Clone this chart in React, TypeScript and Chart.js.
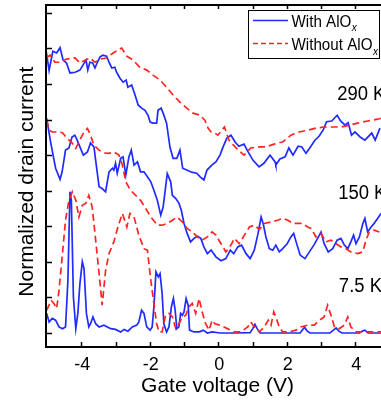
import React, { useEffect, useRef } from "react";
import { Chart, registerables } from "chart.js";

Chart.register(...registerables);

// ---- data (gate voltage V, normalized drain current, offset per temperature) ----
const with290: [number, number][] = [
  [-5.03, 7.95], [-4.94, 7.38], [-4.83, 7.92], [-4.72, 7.87], [-4.62, 8.02], [-4.53, 7.67], [-4.43, 7.59],
  [-4.33, 7.31], [-4.18, 7.33], [-4.04, 7.39], [-3.95, 7.53], [-3.86, 7.67], [-3.81, 7.39], [-3.75, 7.61],
  [-3.67, 7.59], [-3.6, 7.45], [-3.53, 7.61], [-3.45, 7.76], [-3.37, 7.81], [-3.26, 7.78], [-3.18, 7.59],
  [-3.11, 7.45], [-3.02, 7.47], [-2.97, 7.33], [-2.87, 7.16], [-2.78, 7.05], [-2.69, 7.11], [-2.64, 6.91],
  [-2.53, 6.97], [-2.43, 6.69], [-2.34, 6.41], [-2.24, 6.32], [-2.14, 6.26], [-2.05, 6.12], [-1.99, 5.93],
  [-1.91, 5.9], [-1.8, 5.9], [-1.76, 6.26], [-1.67, 6.32], [-1.61, 6.18], [-1.51, 5.9], [-1.41, 5.22],
  [-1.32, 4.91], [-1.21, 4.91], [-1.12, 5.14], [-1.04, 4.63], [-0.92, 4.58], [-0.78, 4.52], [-0.63, 4.49],
  [-0.53, 4.39], [-0.42, 4.3], [-0.33, 4.58], [-0.19, 4.72], [-0.07, 4.81], [0.05, 5.0], [0.14, 5.23],
  [0.25, 5.48], [0.37, 5.56], [0.49, 5.37], [0.6, 5.25], [0.75, 5.31], [0.87, 5.09], [1.01, 4.86],
  [1.19, 4.67], [1.33, 4.77], [1.51, 5.0], [1.66, 4.81], [1.68, 4.72], [1.8, 4.89], [1.95, 4.95],
  [2.06, 5.2], [2.18, 5.0], [2.33, 5.25], [2.44, 5.23], [2.56, 5.05], [2.65, 5.17], [2.82, 5.42],
  [2.94, 5.53], [3.06, 5.7], [3.16, 5.94], [3.31, 5.96], [3.47, 6.12], [3.57, 5.96], [3.7, 5.84],
  [3.79, 5.91], [3.89, 5.56], [3.99, 5.65], [4.14, 5.51], [4.28, 5.42], [4.48, 5.62], [4.58, 5.42],
  [4.72, 5.76],
];
const without290: [number, number][] = [
  [-5.03, 7.73], [-4.91, 7.81], [-4.77, 7.61], [-4.62, 7.61], [-4.43, 7.7], [-4.18, 7.73], [-4.04, 7.59],
  [-3.89, 7.67], [-3.75, 7.73], [-3.6, 7.61], [-3.45, 7.7], [-3.26, 7.73], [-3.07, 7.87], [-2.82, 8.01],
  [-2.67, 7.78], [-2.49, 7.67], [-2.29, 7.47], [-2.09, 7.39], [-1.91, 7.25], [-1.7, 7.11], [-1.51, 6.91],
  [-1.32, 6.69], [-1.12, 6.49], [-0.92, 6.32], [-0.74, 6.18], [-0.53, 6.12], [-0.39, 5.98], [-0.3, 5.76],
  [-0.21, 5.65], [-0.1, 5.62], [-0.01, 5.56], [0.18, 5.79], [0.31, 5.42], [0.52, 5.2], [0.75, 5.0],
  [0.95, 5.2], [1.15, 5.23], [1.39, 5.23], [1.63, 5.31], [1.88, 5.37], [2.12, 5.56], [2.36, 5.65],
  [2.61, 5.7], [2.85, 5.76], [3.09, 5.79], [3.34, 5.79], [3.58, 5.79], [3.82, 5.84], [4.07, 5.9],
  [4.36, 5.96], [4.65, 6.01], [4.75, 6.04],
];
const with150: [number, number][] = [
  [-5.01, 6.03], [-4.89, 5.34], [-4.75, 4.63], [-4.62, 4.32], [-4.56, 4.53], [-4.46, 5.14], [-4.36, 5.2],
  [-4.27, 5.51], [-4.19, 5.56], [-4.12, 5.42], [-4.04, 5.23], [-3.94, 5.0], [-3.82, 5.09], [-3.73, 5.34],
  [-3.63, 5.23], [-3.55, 4.63], [-3.48, 4.11], [-3.39, 4.06], [-3.29, 3.97], [-3.19, 4.53], [-3.09, 4.63],
  [-3.05, 4.58], [-3.0, 4.77], [-2.95, 4.49], [-2.85, 4.91], [-2.78, 4.95], [-2.7, 4.44], [-2.61, 4.95],
  [-2.54, 5.14], [-2.46, 4.72], [-2.36, 4.81], [-2.27, 4.53], [-2.17, 4.53], [-2.07, 4.39], [-1.97, 4.25],
  [-1.88, 4.01], [-1.78, 3.73], [-1.68, 3.31], [-1.61, 3.54], [-1.49, 4.48], [-1.39, 4.25], [-1.34, 3.87],
  [-1.24, 3.78], [-1.15, 3.65], [-1.08, 3.45], [-1.0, 3.08], [-0.91, 2.8], [-0.81, 2.56], [-0.71, 2.66],
  [-0.61, 2.72], [-0.51, 2.66], [-0.42, 2.42], [-0.32, 2.23], [-0.21, 2.33], [-0.07, 2.14], [0.08, 2.03],
  [0.22, 2.09], [0.35, 2.33], [0.45, 2.23], [0.57, 2.42], [0.68, 2.47], [0.81, 2.23], [0.93, 2.09],
  [1.05, 2.33], [1.15, 2.75], [1.25, 3.26], [1.31, 3.08], [1.39, 2.7], [1.49, 2.37], [1.59, 2.33],
  [1.68, 2.47], [1.78, 2.28], [1.88, 2.37], [2.01, 2.51], [2.12, 2.7], [2.2, 2.8], [2.3, 2.47],
  [2.39, 2.19], [2.53, 2.09], [2.66, 2.28], [2.79, 2.47], [2.9, 2.66], [3.0, 2.84], [3.09, 2.51],
  [3.21, 2.28], [3.34, 2.37], [3.47, 2.61], [3.58, 2.66], [3.68, 2.47], [3.78, 2.37], [3.87, 2.56],
  [3.95, 2.75], [4.02, 2.51], [4.12, 2.7], [4.22, 3.08], [4.28, 3.22], [4.36, 2.84], [4.46, 2.98],
  [4.55, 3.08], [4.65, 3.22], [4.75, 3.36],
];
const without150: [number, number][] = [
  [-5.01, 5.98], [-4.94, 5.7], [-4.85, 5.65], [-4.7, 5.65], [-4.55, 5.63], [-4.41, 5.47], [-4.26, 5.33],
  [-4.16, 5.19], [-4.07, 5.37], [-3.92, 5.65], [-3.82, 5.75], [-3.73, 5.56], [-3.63, 5.28], [-3.48, 5.14],
  [-3.34, 5.06], [-3.19, 5.05], [-3.05, 5.09], [-2.9, 5.0], [-2.8, 4.72], [-2.7, 4.25], [-2.56, 4.01],
  [-2.41, 3.87], [-2.27, 3.73], [-2.12, 3.5], [-1.97, 3.26], [-1.78, 3.03], [-1.64, 3.03], [-1.49, 3.08],
  [-1.34, 3.17], [-1.2, 3.26], [-1.05, 3.12], [-0.91, 2.94], [-0.76, 2.84], [-0.61, 2.7], [-0.47, 2.61],
  [-0.32, 2.7], [-0.18, 2.84], [-0.07, 2.75], [0.08, 2.51], [0.22, 2.28], [0.37, 2.47], [0.47, 2.66],
  [0.61, 2.51], [0.76, 2.75], [0.91, 2.98], [1.05, 3.03], [1.2, 2.91], [1.34, 3.08], [1.54, 3.12],
  [1.73, 3.17], [1.88, 3.22], [2.03, 3.17], [2.17, 3.08], [2.32, 3.08], [2.46, 3.08], [2.61, 2.98],
  [2.71, 2.94], [2.85, 2.7], [3.0, 2.8], [3.14, 2.56], [3.29, 2.61], [3.44, 2.51], [3.58, 2.42],
  [3.73, 2.37], [3.87, 2.28], [4.07, 2.23], [4.22, 2.28], [4.31, 2.61], [4.41, 2.84], [4.55, 2.89],
  [4.7, 2.84],
];
const with7p5: [number, number][] = [
  [-5.01, 0.55], [-4.94, 0.31], [-4.85, 0.41], [-4.75, 0.36], [-4.65, 0.17], [-4.55, 0.12], [-4.46, 0.17],
  [-4.39, 1.48], [-4.33, 3.97], [-4.29, 3.73], [-4.23, 1.01], [-4.16, 0.12], [-4.1, 0.55], [-4.04, 1.39],
  [-3.97, 2.0], [-3.92, 1.81], [-3.85, 0.55], [-3.78, 0.17], [-3.73, 0.26], [-3.66, 0.45], [-3.58, 0.26],
  [-3.48, 0.17], [-3.34, 0.22], [-3.14, 0.12], [-3.0, 0.1], [-2.85, 0.03], [-2.75, 0.1], [-2.64, 0.05],
  [-2.51, 0.17], [-2.38, 0.22], [-2.32, 0.31], [-2.24, 0.64], [-2.17, 0.55], [-2.09, 0.17], [-1.99, 0.08],
  [-1.93, 0.17], [-1.88, 0.73], [-1.82, 1.72], [-1.75, 1.58], [-1.7, 1.67], [-1.64, 1.11], [-1.59, 0.26],
  [-1.51, 0.03], [-1.44, 0.17], [-1.37, 0.73], [-1.31, 0.97], [-1.26, 0.64], [-1.21, 0.12], [-1.15, 0.17],
  [-1.1, 0.55], [-1.05, 0.5], [-1.0, 0.59], [-0.94, 0.97], [-0.88, 0.78], [-0.84, 0.08], [-0.71, 0.03],
  [-0.56, 0.03], [-0.48, 0.06], [-0.44, 0.08], [-0.32, 0.0], [-0.18, 0.03], [0.05, 0.0], [0.49, 0.0],
  [0.93, 0.01], [1.01, 0.13], [1.07, 0.24], [1.13, 0.13], [1.22, 0.0], [1.8, 0.0], [2.39, 0.0],
  [2.46, 0.09], [2.52, 0.16], [2.59, 0.06], [2.68, 0.0], [3.26, 0.0], [3.36, 0.08], [3.44, 0.14],
  [3.52, 0.05], [3.61, 0.0], [4.12, 0.0], [4.22, 0.06], [4.28, 0.08], [4.37, 0.0], [4.75, 0.0],
];
const without7p5: [number, number][] = [
  [-5.01, 0.64], [-4.94, 0.78], [-4.88, 0.92], [-4.8, 0.83], [-4.72, 0.69], [-4.65, 1.2], [-4.55, 2.23],
  [-4.46, 3.17], [-4.36, 3.73], [-4.26, 3.97], [-4.16, 3.73], [-4.07, 3.26], [-3.97, 3.59], [-3.87, 3.64],
  [-3.78, 3.87], [-3.68, 3.54], [-3.58, 2.61], [-3.48, 1.67], [-3.39, 0.78], [-3.29, 1.76], [-3.19, 2.23],
  [-3.05, 2.56], [-2.93, 2.98], [-2.8, 3.36], [-2.67, 2.98], [-2.58, 3.36], [-2.46, 3.26], [-2.32, 2.75],
  [-2.17, 2.37], [-2.07, 2.33], [-1.97, 1.48], [-1.88, 0.83], [-1.8, 0.26], [-1.73, 0.03], [-1.64, 0.03],
  [-1.54, 0.5], [-1.44, 0.55], [-1.34, 0.45], [-1.24, 0.12], [-1.15, 0.26], [-1.05, 0.45], [-0.95, 0.5],
  [-0.86, 0.73], [-0.76, 0.83], [-0.66, 0.55], [-0.56, 0.97], [-0.47, 0.59], [-0.37, 0.26], [-0.27, 0.08],
  [-0.18, 0.36], [-0.1, 0.26], [0.05, 0.22], [0.25, 0.13], [0.47, 0.03], [0.66, 0.03], [0.86, 0.17],
  [0.95, 0.31], [1.05, 0.17], [1.2, 0.03], [1.34, 0.17], [1.46, 0.36], [1.54, 0.22], [1.62, 0.59],
  [1.68, 0.45], [1.78, 0.17], [1.88, 0.03], [2.07, 0.03], [2.27, 0.08], [2.41, 0.17], [2.61, 0.22],
  [2.8, 0.22], [2.95, 0.36], [3.09, 0.45], [3.19, 0.78], [3.29, 0.5], [3.39, 0.17], [3.53, 0.12],
  [3.68, 0.22], [3.78, 0.45], [3.87, 0.17], [4.02, 0.03], [4.22, 0.03], [4.43, 0.03], [4.75, 0.03],
];

const xMajorTicks = [-4, -2, 0, 2, 4];
const xMinorTicks = [-3, -1, 1, 3];
const yTicks = [0, 1, 2, 3, 4, 5, 6, 7, 8, 9];
const tempLabels: { text: string; x: number; y: number }[] = [
  { text: "290 K", x: 3.47, y: 6.55 },
  { text: "150 K", x: 3.5, y: 3.78 },
  { text: "7.5 K", x: 3.52, y: 1.15 },
];
const seriesNames = ["With AlO", "Without AlO"];

const BLUE = "#1f2bff";
const RED = "#ff2424";
const FONT = "'Liberation Sans', Arial, Helvetica, sans-serif";

const toXY = (arr: [number, number][]) => arr.map(([x, y]) => ({ x, y }));

const overlay = {
  id: "overlay",
  afterDraw(chart: any) {
    const { ctx, chartArea, scales } = chart;
    const { left, top, right, bottom } = chartArea;
    const xs = scales.x;
    const ys = scales.y;
    ctx.save();
    ctx.strokeStyle = "#000";
    ctx.fillStyle = "#000";
    ctx.lineWidth = 2;
    ctx.beginPath();
    ctx.moveTo(left - 1, top);
    ctx.lineTo(right, top);
    ctx.moveTo(left - 1, bottom);
    ctx.lineTo(right, bottom);
    ctx.moveTo(left, top);
    ctx.lineTo(left, bottom);
    ctx.stroke();
    ctx.lineWidth = 1.5;
    ctx.beginPath();
    [...xMajorTicks, ...xMinorTicks].forEach((v) => {
      const px = Math.round(xs.getPixelForValue(v)) + 0.5;
      ctx.moveTo(px, bottom);
      ctx.lineTo(px, bottom - 5);
      ctx.moveTo(px, top);
      ctx.lineTo(px, top + 4);
    });
    yTicks.forEach((v) => {
      const py = Math.round(ys.getPixelForValue(v)) + 0.5;
      ctx.moveTo(left, py);
      ctx.lineTo(left + 6, py);
    });
    ctx.stroke();

    // tick labels
    ctx.font = `18px ${FONT}`;
    ctx.textAlign = "center";
    ctx.textBaseline = "alphabetic";
    xMajorTicks.forEach((v) => {
      ctx.fillText(String(v), xs.getPixelForValue(v) + 1, 369.8);
    });

    // axis titles
    ctx.font = `21px ${FONT}`;
    ctx.fillText("Gate voltage (V)", 217.5, 391.5);
    ctx.save();
    ctx.translate(33, 181.7);
    ctx.rotate(-Math.PI / 2);
    ctx.fillText("Normalized drain current", 0, 0);
    ctx.restore();

    // temperature labels
    ctx.textAlign = "left";
    ctx.font = `20.5px ${FONT}`;
    tempLabels.forEach((l) => {
      ctx.save();
      ctx.translate(xs.getPixelForValue(l.x), ys.getPixelForValue(l.y));
      ctx.scale(0.9, 1);
      ctx.fillText(l.text, 0, 0);
      ctx.restore();
    });

    // legend
    ctx.fillStyle = "#fff";
    ctx.fillRect(248.5, 10.5, 131, 48);
    ctx.strokeStyle = "#000";
    ctx.lineWidth = 1;
    ctx.strokeRect(248.5, 10.5, 131, 48);
    ctx.lineWidth = 1.6;
    ctx.strokeStyle = BLUE;
    ctx.beginPath();
    ctx.moveTo(253, 20.5);
    ctx.lineTo(288, 20.5);
    ctx.stroke();
    ctx.strokeStyle = RED;
    ctx.setLineDash([5, 3]);
    ctx.beginPath();
    ctx.moveTo(253, 43.5);
    ctx.lineTo(288, 43.5);
    ctx.stroke();
    ctx.setLineDash([]);
    ctx.fillStyle = "#000";
    const rows = [26.7, 50];
    seriesNames.forEach((name, i) => {
      ctx.save();
      ctx.translate(291.5, rows[i]);
      ctx.scale(0.92, 1);
      ctx.font = `16.5px ${FONT}`;
      ctx.fillText(name, 0, 0);
      const w = ctx.measureText(name).width;
      ctx.font = `italic 11px ${FONT}`;
      ctx.fillText("x", w + 0.5, 4.5);
      ctx.restore();
    });
    ctx.restore();
  },
};

export default function App() {
  const ref = useRef<HTMLCanvasElement | null>(null);
  useEffect(() => {
    if (!ref.current) return;
    const mk = (data: [number, number][], color: string, dashed: boolean) => ({
      data: toXY(data),
      borderColor: color,
      backgroundColor: color,
      borderWidth: 1.7,
      borderDash: dashed ? [7, 4] : [],
      pointRadius: 0,
      tension: 0,
      fill: false,
    });
    const chart = new Chart(ref.current, {
      type: "line",
      data: {
        datasets: [
          mk(without290, RED, true),
          mk(without150, RED, true),
          mk(without7p5, RED, true),
          mk(with290, BLUE, false),
          mk(with150, BLUE, false),
          mk(with7p5, BLUE, false),
        ],
      },
      options: {
        responsive: false,
        devicePixelRatio: 1,
        animation: false,
        events: [],
        layout: { padding: { top: 5, right: 0, left: 0, bottom: 0 } },
        plugins: { legend: { display: false }, tooltip: { enabled: false } },
        scales: {
          x: {
            type: "linear",
            min: -5.03,
            max: 4.75,
            grid: { display: false },
            border: { display: false },
            ticks: { display: false },
            afterFit: (s: any) => {
              s.height = 57;
            },
          },
          y: {
            type: "linear",
            min: -0.394,
            max: 9.22,
            grid: { display: false },
            border: { display: false },
            ticks: { display: false },
            afterFit: (s: any) => {
              s.width = 46;
            },
          },
        },
      },
      plugins: [overlay],
    });
    return () => chart.destroy();
  }, []);
  return (
    <div style={{ position: "absolute", left: 0, top: 0, width: 381, height: 404, background: "#fff" }}>
      <canvas ref={ref} width={381} height={404} style={{ display: "block" }} />
    </div>
  );
}
